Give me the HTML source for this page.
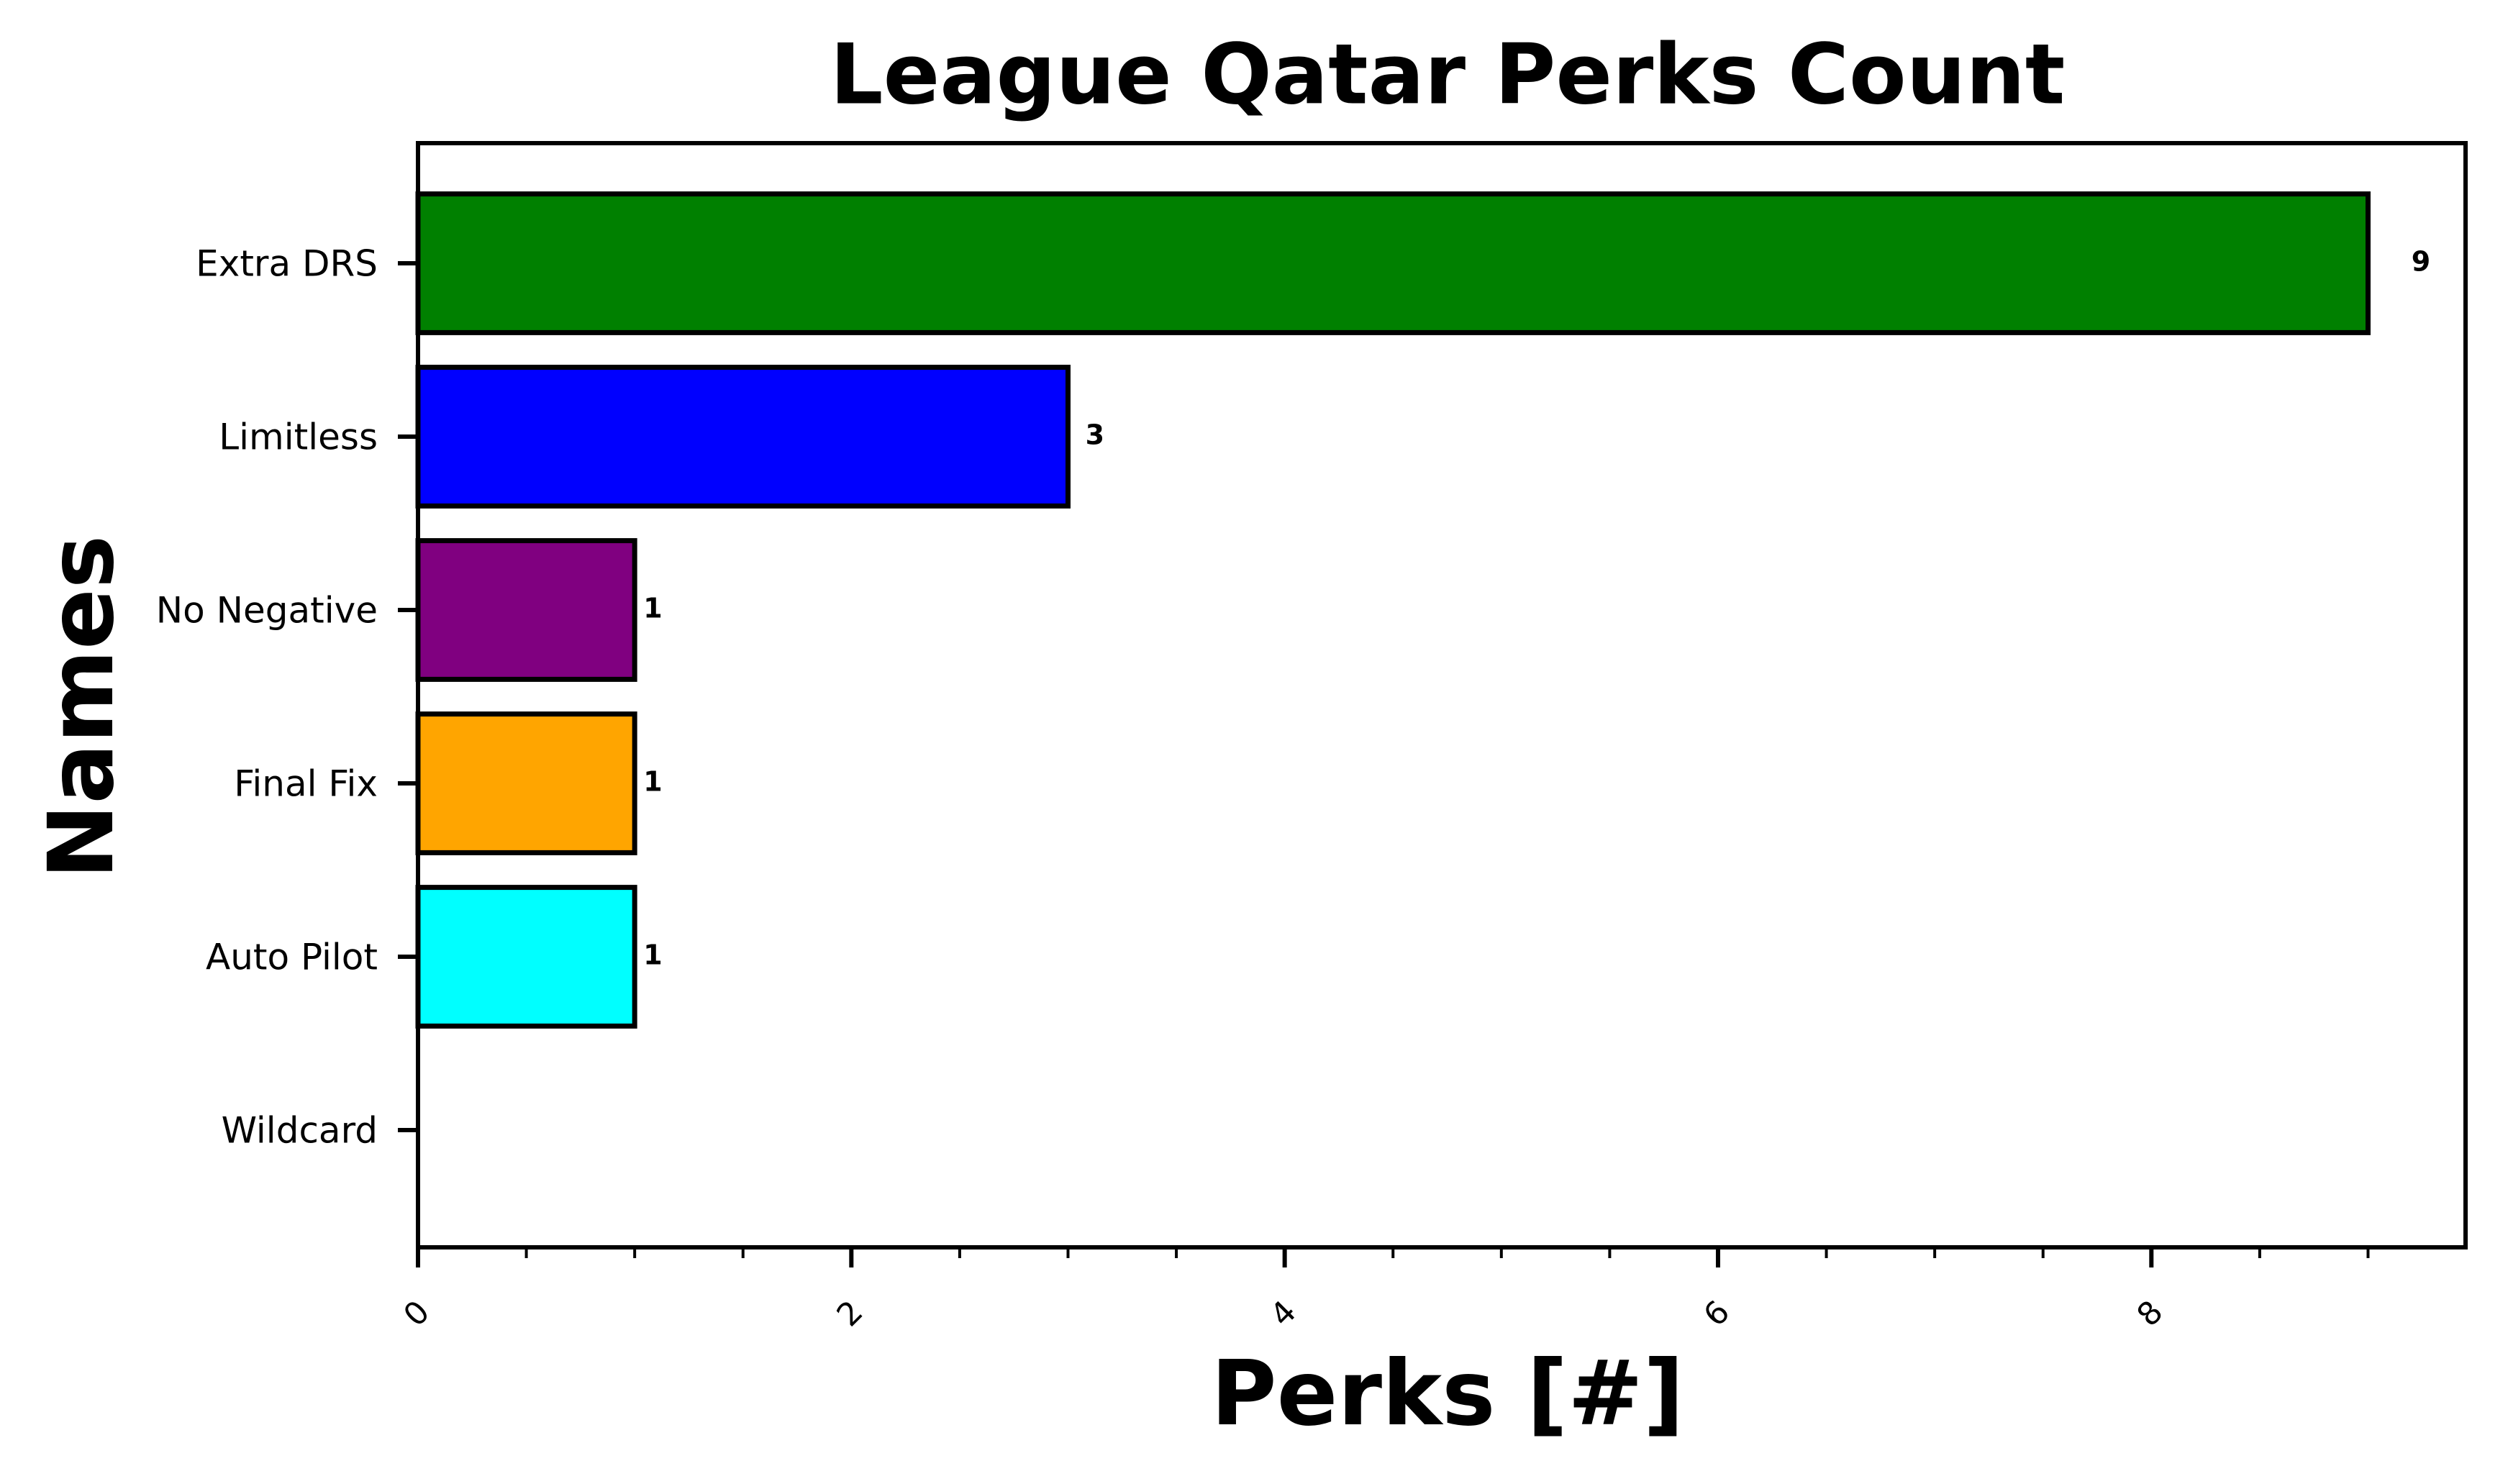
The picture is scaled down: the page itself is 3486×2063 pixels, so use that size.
<!DOCTYPE html>
<html><head><meta charset="utf-8"><style>
html,body{margin:0;padding:0;background:#fff}
svg{display:block}
text{font-family:"DejaVu Sans","Liberation Sans",sans-serif}
</style></head><body>
<svg id="chart" width="3486" height="2063" viewBox="0 0 3486 2063" xmlns="http://www.w3.org/2000/svg">
<rect width="3486" height="2063" fill="#fff"/>
<text x="2012" y="112" font-size="116" font-weight="bold" text-anchor="middle" dominant-baseline="middle">League Qatar Perks Count</text>
<text x="2012" y="1946" font-size="125" font-weight="bold" text-anchor="middle" dominant-baseline="middle">Perks [#]</text>
<text x="0" y="0" font-size="125" font-weight="bold" text-anchor="middle" dominant-baseline="middle" transform="translate(122,983) rotate(-90)">Names</text>
<g id="bars"></g>
<g id="axes"></g>
</svg>
<script>
const categories = ["Extra DRS","Limitless","No Negative","Final Fix","Auto Pilot","Wildcard"];
const values = [9,3,1,1,1,0];
const colors = ["#008000","#0000ff","#800080","#ffa500","#00ffff","#ffffff"];
const xTicks = [0,2,4,6,8];
const xMax = 9.45;

const L=581,R=3427,T=199,B=1734;
const NS="http://www.w3.org/2000/svg";
function xs(v){return L+(v/xMax)*(R-L);}
const yStep=241, y0=366;
function ys(i){return y0+i*yStep;}
function mk(tag,attrs,parent){const e=document.createElementNS(NS,tag);for(const k in attrs)e.setAttribute(k,attrs[k]);parent.appendChild(e);return e;}
const bars=document.getElementById('bars'), axes=document.getElementById('axes');
const bh=0.8*yStep;
categories.forEach((c,i)=>{
  const v=values[i];
  const r=mk('rect',{x:xs(0),y:ys(i)-bh/2,width:Math.max(0,xs(v)-xs(0)),height:bh,fill:colors[i],stroke:'#000','stroke-width':7},bars);
  
  
  if(v>0){
    const t=mk('text',{x:xs(v+0.02*v+0.02),y:ys(i),'font-size':38,'font-weight':'bold','dominant-baseline':'middle'},bars);
    t.textContent=v;
    
    
  }
  const tk=mk('line',{x1:L-28,x2:L,y1:ys(i),y2:ys(i),stroke:'#000','stroke-width':6},axes);
  
  
  const lb=mk('text',{x:L-56,y:ys(i)+4,'font-size':50,'text-anchor':'end','dominant-baseline':'middle'},axes);
  lb.textContent=c;
  
  
});
for(let m=0;m<=xMax;m+=0.5){
  const major=xTicks.includes(m);
  const tk=mk('line',{x1:xs(m),x2:xs(m),y1:B,y2:B+(major?28:15),stroke:'#000','stroke-width':major?6:4},axes);
  
  
}
xTicks.forEach(t=>{
  const lb=mk('text',{x:0,y:0,'font-size':44,'text-anchor':'middle','dominant-baseline':'middle',transform:`translate(${xs(t)},1828) rotate(-45)`},axes);
  lb.textContent=t;
  
  
});
const frame=mk('rect',{x:L,y:T,width:R-L,height:B-T,fill:'none',stroke:'#000','stroke-width':6},axes);


</script>
</body></html>
